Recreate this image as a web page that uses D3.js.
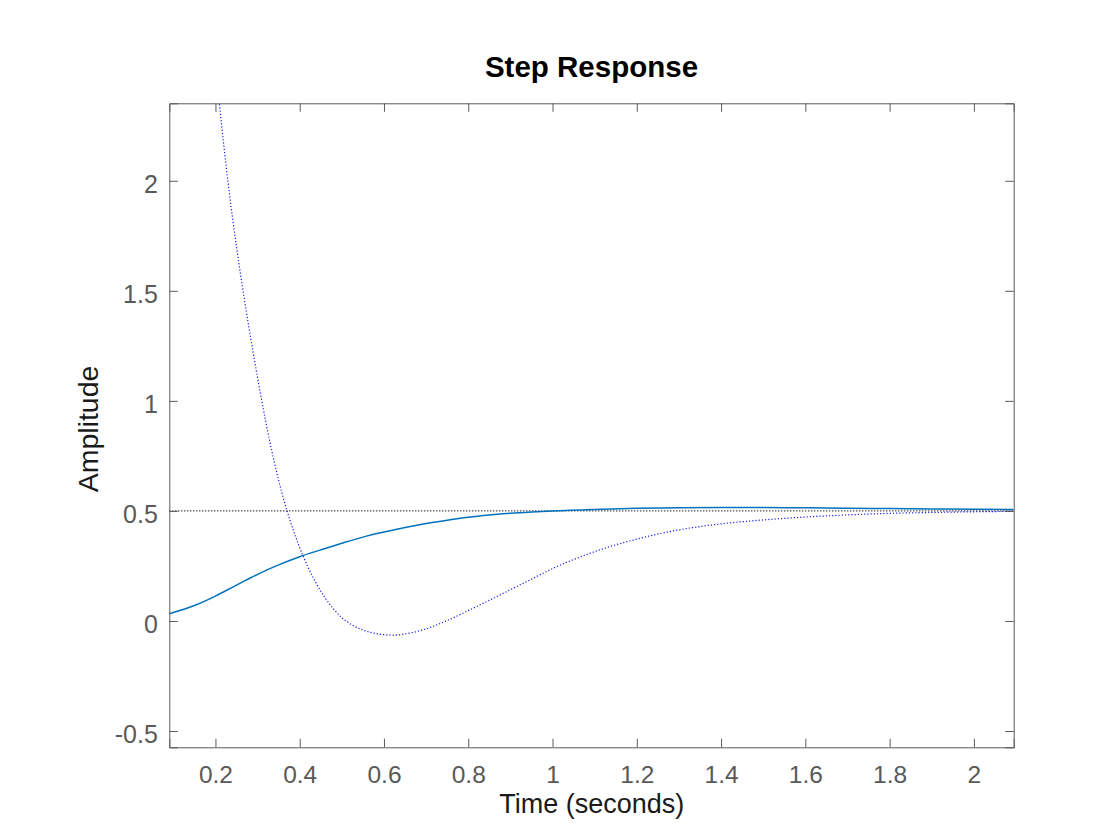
<!DOCTYPE html>
<html><head><meta charset="utf-8">
<script src="https://cdn.jsdelivr.net/npm/d3@7"></script>
<style>body{margin:0;background:#fff;} svg{display:block;}</style>
</head><body>
<svg id="chart" width="1120" height="840"></svg>
<script>
const titleText = "Step Response";
const xLabelText = "Time (seconds)";
const yLabelText = "Amplitude";
const xDomain = [0.0905, 2.0945];
const yDomain = [-0.574, 2.352];
const xTicks = [0.2, 0.4, 0.6, 0.8, 1, 1.2, 1.4, 1.6, 1.8, 2];
const yTicks = [-0.5, 0, 0.5, 1, 1.5, 2];
const finalValue = 0.5;

// Solid step response
const stepTime = [0.0905, 0.15, 0.2, 0.25, 0.3, 0.35, 0.4, 0.45, 0.5, 0.55, 0.6, 0.65, 0.7, 0.75, 0.8, 0.85, 0.9, 0.95, 1.0, 1.1, 1.2, 1.3, 1.4, 1.5, 1.6, 1.7, 1.8, 1.9, 2.0, 2.0945];
const stepValue = [0.033, 0.070, 0.113, 0.163, 0.212, 0.255, 0.292, 0.323, 0.353, 0.381, 0.404, 0.425, 0.443, 0.458, 0.471, 0.481, 0.489, 0.495, 0.500, 0.507, 0.512, 0.514, 0.515, 0.515, 0.514, 0.512, 0.511, 0.509, 0.508, 0.507];

// Dotted blue response
const dotTime = [0.18, 0.19, 0.2, 0.21, 0.22, 0.23, 0.24, 0.25, 0.26, 0.27, 0.28, 0.29, 0.30, 0.31, 0.32, 0.33, 0.34, 0.35, 0.36, 0.37, 0.38, 0.40, 0.42, 0.44, 0.46, 0.48, 0.50, 0.525, 0.55, 0.575, 0.6, 0.625, 0.65, 0.7, 0.75, 0.8, 0.85, 0.9, 0.95, 1.0, 1.05, 1.1, 1.15, 1.2, 1.25, 1.3, 1.35, 1.4, 1.45, 1.5, 1.6, 1.7, 1.8, 1.9, 2.0, 2.0945];
const dotValue = [3.0, 2.76, 2.54, 2.34, 2.158, 1.992, 1.84, 1.70, 1.569, 1.445, 1.327, 1.214, 1.105, 1.0, 0.90, 0.806, 0.719, 0.639, 0.566, 0.50, 0.44, 0.333, 0.243, 0.168, 0.106, 0.055, 0.015, -0.019, -0.041, -0.055, -0.062, -0.064, -0.059, -0.036, 0.002, 0.047, 0.094, 0.142, 0.190, 0.238, 0.279, 0.315, 0.346, 0.372, 0.395, 0.414, 0.429, 0.441, 0.451, 0.459, 0.472, 0.482, 0.489, 0.493, 0.496, 0.498];

const svg = d3.select("#chart");
const L = 169.3, R = 1013.7, T = 103.3, B = 747.3;
const x = d3.scaleLinear().domain(xDomain).range([L, R]);
const y = d3.scaleLinear().domain(yDomain).range([B, T]);
const axisColor = "#5a5a5a";
const tickLen = 8.5;
const fmt = d => String(d);

svg.append("defs").append("clipPath").attr("id", "plotclip")
  .append("rect").attr("x", L).attr("y", T).attr("width", R - L).attr("height", B - T);

const plot = svg.append("g").attr("clip-path", "url(#plotclip)");

// Final value dotted line
plot.append("line")
  .attr("x1", x(xDomain[0])).attr("x2", x(xDomain[1]))
  .attr("y1", y(finalValue)).attr("y2", y(finalValue))
  .attr("stroke", "#000").attr("stroke-width", 1.1).attr("stroke-dasharray", "1,2");

const line = d3.line().x(d => x(d[0])).y(d => y(d[1])).curve(d3.curveMonotoneX);

plot.append("path")
  .datum(dotTime.map((t, i) => [t, dotValue[i]]))
  .attr("d", line).attr("fill", "none")
  .attr("stroke", "#1a1ae6").attr("stroke-width", 1.2).attr("stroke-dasharray", "1.2,2");

plot.append("path")
  .datum(stepTime.map((t, i) => [t, stepValue[i]]))
  .attr("d", line).attr("fill", "none")
  .attr("stroke", "#0072BD").attr("stroke-width", 1.5);

// Axes (ticks inside, on all four sides)
const font = "Arial, 'Liberation Sans', Helvetica, sans-serif";
const bottomAxis = d3.axisBottom(x).tickValues(xTicks).tickSize(-tickLen).tickFormat(fmt);
const topAxis = d3.axisTop(x).tickValues(xTicks).tickSize(-tickLen).tickFormat("");
const leftAxis = d3.axisLeft(y).tickValues(yTicks).tickSize(-tickLen).tickFormat(fmt);
const rightAxis = d3.axisRight(y).tickValues(yTicks).tickSize(-tickLen).tickFormat("");

function style(g) {
  g.select(".domain").attr("stroke", axisColor).attr("stroke-width", 1);
  g.selectAll(".tick line").attr("stroke", axisColor).attr("stroke-width", 1);
  g.selectAll(".tick text").attr("fill", "#595959").style("font-family", font).style("font-size", "25px");
}

const gb = svg.append("g").attr("transform", `translate(0,${B})`).call(bottomAxis).call(style);
gb.selectAll(".tick text").style("font-size", "24.5px").attr("y", 36.2).attr("dy", 0);
svg.append("g").attr("transform", `translate(0,${T})`).call(topAxis).call(style);
const gl = svg.append("g").attr("transform", `translate(${L},0)`).call(leftAxis).call(style);
gl.selectAll(".tick text").attr("x", -11.5).attr("dy", 0).attr("y", 11.5).attr("text-anchor", "end");
svg.append("g").attr("transform", `translate(${R},0)`).call(rightAxis).call(style);

// Labels
svg.append("text").attr("x", (L + R) / 2).attr("y", 77)
  .attr("text-anchor", "middle").style("font-family", font).style("font-size", "29.5px")
  .style("font-weight", "bold").attr("fill", "#000").text(titleText);

svg.append("text").attr("x", 591.7).attr("y", 813)
  .attr("text-anchor", "middle").style("font-family", font).style("font-size", "27px")
  .attr("fill", "#1a1a1a").text(xLabelText);

svg.append("text").attr("transform", "translate(97.5,429) rotate(-90)")
  .attr("text-anchor", "middle").style("font-family", font).style("font-size", "28.5px")
  .attr("fill", "#1a1a1a").text(yLabelText);
</script>
</body></html>
